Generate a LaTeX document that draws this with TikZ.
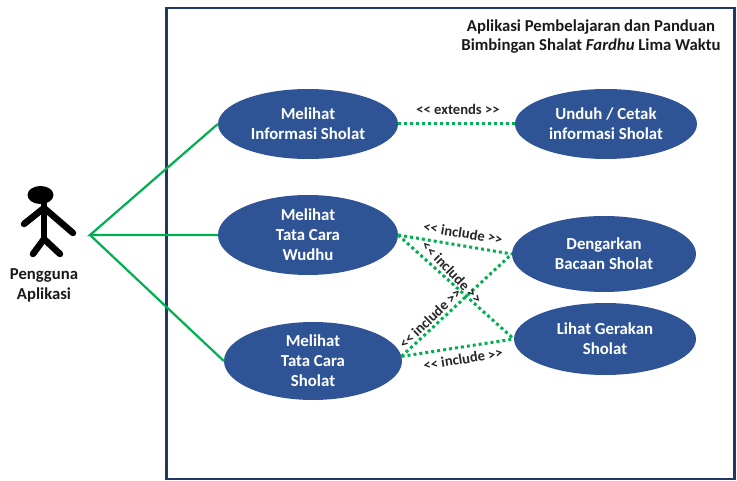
\documentclass[tikz,border=0pt]{standalone}
\usepackage{fontspec}
\setmainfont{Carlito}
\usetikzlibrary{shapes.geometric}
\definecolor{ucblue}{HTML}{2F5496}
\definecolor{framenavy}{HTML}{1F3864}
\definecolor{lnk}{HTML}{00B050}
\tikzset{
  uc/.style={ellipse,fill=ucblue,text=white,inner sep=0pt,minimum width=#1,align=center,font=\fontsize{16.8}{20}\selectfont\bfseries},
  lbl/.style={font=\fontsize{14.6}{16}\selectfont\bfseries,text=black!85,inner sep=0pt},
  assoc/.style={draw=lnk,line width=2.2pt},
  dep/.style={draw=lnk,line width=3pt,dash pattern=on 3pt off 3pt},
  limb/.style={line width=6.5pt,line cap=round,line join=round,black}
}
\begin{document}
\begin{tikzpicture}[x=1pt,y=-1pt]
\useasboundingbox (0,0) rectangle (737,481);
\node[draw=framenavy,line width=2.6pt,minimum width=568pt,minimum height=471pt,inner sep=0pt] (frame) at (450.5,243.5) {};
\node[font=\fontsize{16.7}{19.5}\selectfont\bfseries,align=center,text=black!90,inner sep=0pt] (title) at (591,36.5) {Aplikasi Pembelajaran dan Panduan\\Bimbingan Shalat \textit{Fardhu} Lima Waktu};
\node[uc=180pt,minimum height=70pt] (e1) at (308,124) {Melihat\\Informasi Sholat};
\node[uc=180pt,minimum height=80pt] (e2) at (308,235) {Melihat\\Tata Cara\\Wudhu};
\node[uc=178pt,minimum height=78pt] (e3) at (313,361) {Melihat\\Tata Cara\\Sholat};
\node[uc=182pt,minimum height=70pt] (e4) at (606,124) {Unduh / Cetak\\informasi Sholat};
\node[uc=184pt,minimum height=76pt] (e5) at (604,254) {Dengarkan\\Bacaan Sholat};
\node[uc=182pt,minimum height=72pt] (e6) at (605,339) {Lihat Gerakan\\Sholat};
% actor
\fill[black] (40.5,195) ellipse (13 and 9);
\draw[limb] (44,203) -- (44,238);
\draw[limb] (24,224) -- (44,208) -- (73,233);
\draw[limb] (33,254) -- (44,239) -- (60,254);
\node[font=\fontsize{16.7}{20}\selectfont\bfseries,align=center,text=black!90,inner sep=0pt] (actor) at (44,285) {Pengguna\\Aplikasi};
\coordinate (hub) at (90,235);
\draw[assoc] (e1.west) -- (hub) -- (e2.west);
\draw[assoc] (hub) -- (e3.west);
\draw[dep] (e1.east) -- (e4.west);
\draw[dep] (e2.east) -- (e5.west);
\draw[dep] (e2.east) -- (e6.west);
\draw[dep] (e3.3) -- (e5.west);
\draw[dep] (e3.3) -- (e6.west);
\node[lbl] (l1) at (458,109) {<{}< extends >{}>};
\node[lbl,rotate=-9] (l2) at (463,233) {<{}< include >{}>};
\node[lbl,rotate=-46] (l3) at (452,272) {<{}< include >{}>};
\node[lbl,rotate=44] (l4) at (430,318.5) {<{}< include >{}>};
\node[lbl,rotate=9] (l5) at (463,359) {<{}< include >{}>};
\end{tikzpicture}
\end{document}
